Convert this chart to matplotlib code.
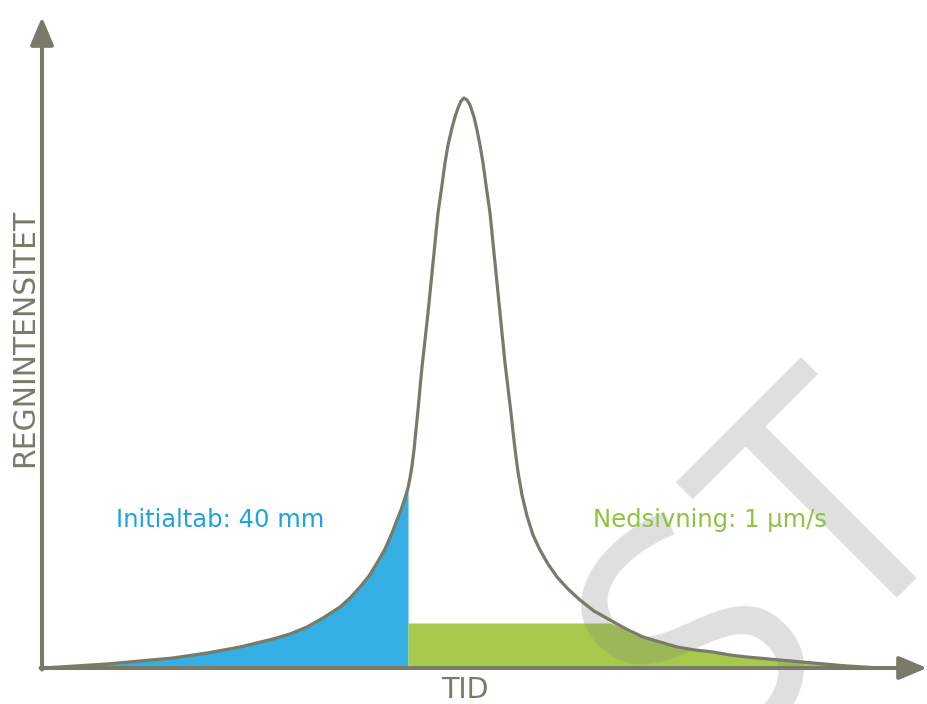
import numpy as np
import matplotlib
matplotlib.use("Agg")
import matplotlib.pyplot as plt

# regnkurve (tid, intensitet) i vilkårlige enheder
tid = np.array([1, 33, 65, 98, 131, 165, 198, 231, 248, 265, 281, 298, 308, 318, 327,
                335, 343, 350, 355, 359, 363, 366, 368, 370, 372, 374, 376, 378, 380,
                383, 386, 391, 396, 400, 403, 406, 410, 413, 416, 419, 422, 425, 428,
                432, 435, 438, 441, 444, 448, 453, 458, 463, 469, 471, 473, 476, 480,
                485, 491, 498, 506, 515, 526, 538, 552, 568, 584, 601, 618, 635, 653,
                671, 688, 705, 738, 771, 805, 838], dtype=float)
intensitet = np.array([0, 2, 4, 7, 10, 15, 21, 29, 34, 41, 50, 61, 70, 81, 92,
                       105, 119, 135, 148, 158, 170, 180, 190, 202, 218, 238, 258, 280, 301,
                       328, 355, 405, 455, 483, 505, 523, 540, 551, 560, 567, 570, 568, 563,
                       551, 538, 523, 505, 483, 455, 405, 355, 305, 255, 236, 219, 196, 173,
                       152, 133, 118, 104, 91, 79, 68, 57, 48, 39, 31, 26, 21, 18,
                       16, 13, 11, 8, 5, 2, 0], dtype=float)

t_initialtab = 366      # slut paa initialtab
nedsivning = 45         # nedsivningsrate (hoejde af groen flade)

# vandmaerke: synlige bogstaver og deres grundlinje-midte
vm_tekst = ["S", "T"]
vm_x = [730, 864]
vm_y = [-42, 82]

farve_akse = "#7a7a68"
farve_blaa = "#33afe4"
farve_groen = "#a6ca4b"

fig = plt.figure(figsize=(9.27, 7.04), dpi=100)
ax = fig.add_axes([0, 0, 1, 1])
ax.set_xlim(-42, 885)
ax.set_ylim(-36, 668)
ax.axis("off")

# initialtab (blaa) og nedsivning (groen)
venstre = tid <= t_initialtab
ax.fill_between(tid[venstre], 0, intensitet[venstre], color=farve_blaa, lw=0, zorder=1)
hoejre = tid >= t_initialtab
ax.fill_between(tid[hoejre], 0, np.minimum(intensitet[hoejre], nedsivning),
                color=farve_groen, lw=0, zorder=1)

for bogstav, bx, by in zip(vm_tekst, vm_x, vm_y):
    ax.text(bx, by, bogstav, rotation=45, rotation_mode="anchor", ha="center",
            va="baseline", fontsize=240, family="Open Sans", color="#808080",
            alpha=0.25, zorder=3, clip_on=True)

ax.plot(tid, intensitet, color=farve_akse, lw=2.3, zorder=4,
        solid_joinstyle="round", solid_capstyle="round")

# akser med pile
pil = dict(arrowstyle="-|>,head_length=1.0,head_width=0.42", color=farve_akse,
           lw=2.9, mutation_scale=17, shrinkA=0, shrinkB=0)
ax.annotate("", xy=(0, 651), xytext=(0, -1.5), arrowprops=pil, zorder=5)
ax.annotate("", xy=(885, 0), xytext=(-1.5, 0), arrowprops=pil, zorder=5)

ax.text(-17, 330, "REGNINTENSITET", rotation=90, ha="center", va="center",
        fontsize=21.5, family="DejaVu Sans", color=farve_akse, zorder=6)
ax.text(423, -22, "TID", ha="center", va="center", fontsize=20.5,
        family="DejaVu Sans", color=farve_akse, zorder=6)
ax.text(178, 148, "Initialtab: 40 mm", ha="center", va="center", fontsize=17.5,
        family="DejaVu Sans", color="#1fa3dd", zorder=6)
ax.text(668, 148, "Nedsivning: 1 µm/s", ha="center", va="center", fontsize=17.5,
        family="DejaVu Sans", color="#8cc43f", zorder=6)

fig.savefig("out.png", dpi=100)
